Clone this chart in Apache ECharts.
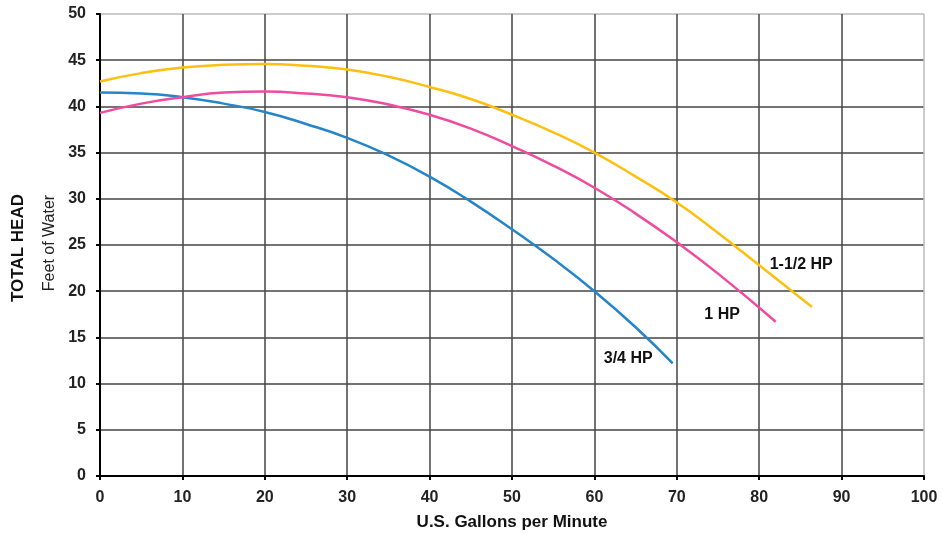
<!DOCTYPE html>
<html>
<head>
<meta charset="utf-8">
<script src="https://cdn.jsdelivr.net/npm/echarts@6/dist/echarts.min.js"></script>
<style>
  html, body { margin: 0; padding: 0; background: #fff; }
  #chart { width: 943px; height: 534px; }
</style>
</head>
<body>
<div id="chart"></div>
<script>
// pump curves: flow (GPM) vs head (ft)
const flowQuarter = [0, 5, 10, 15, 20, 25, 30, 35, 40, 45, 50, 55, 60, 65, 69.5]
const headQuarter = [41.5, 41.4, 41.0, 40.3, 39.4, 38.1, 36.6, 34.7, 32.4, 29.7, 26.7, 23.5, 20.0, 16.1, 12.2]

const flowOne = [0, 5, 10, 15, 20, 25, 30, 35, 40, 45, 50, 55, 60, 65, 70, 75, 82]
const headOne = [39.3, 40.3, 41.0, 41.5, 41.6, 41.4, 41.0, 40.2, 39.1, 37.6, 35.7, 33.6, 31.2, 28.4, 25.3, 21.9, 16.7]

const flowOneHalf = [0, 5, 10, 15, 20, 25, 30, 35, 40, 45, 50, 55, 60, 65, 70, 75, 80, 86.4]
const headOneHalf = [42.7, 43.6, 44.2, 44.5, 44.6, 44.4, 44.0, 43.2, 42.1, 40.8, 39.1, 37.2, 35.0, 32.4, 29.6, 26.3, 22.8, 18.3]

const seriesNames = ['3/4 HP', '1 HP', '1-1/2 HP']
// where each curve's label sits (data coords)
const labelSpots = [[64.1, 12.7], [75.5, 17.5], [85.1, 22.9]]

const font = '"Liberation Sans", Arial, Helvetica, sans-serif'

const zip = (xs, ys) => xs.map((x, i) => [x, ys[i]])

// grid lines dark, last one (top / right border) light grey
const gridColors = ['#444', '#444', '#444', '#444', '#444', '#444', '#444', '#444', '#444', '#444', '#bbb']

const makeSeries = (name, data, color, spot) => ({
  name: name,
  type: 'line',
  smooth: true,
  showSymbol: false,
  data: data,
  lineStyle: { color: color, width: 2.5 },
  markPoint: {
    symbol: 'circle',
    symbolSize: 0,
    data: [{ coord: spot, value: name }],
    label: {
      show: true,
      position: 'inside',
      formatter: name,
      color: '#111',
      fontFamily: font,
      fontWeight: 'bold',
      fontSize: 16
    }
  }
})

const chart = echarts.init(document.getElementById('chart'))

chart.setOption({
  animation: false,
  backgroundColor: '#fff',
  grid: { left: 100, right: 19, top: 14, bottom: 58, outerBoundsMode: 'none', containLabel: false },
  xAxis: {
    type: 'value',
    min: 0,
    max: 100,
    interval: 10,
    name: 'U.S. Gallons per Minute',
    nameLocation: 'middle',
    nameGap: 38,
    nameTextStyle: { color: '#111', fontFamily: font, fontWeight: 'bold', fontSize: 17 },
    axisLine: { show: true, onZero: false, lineStyle: { color: '#000', width: 2 } },
    axisTick: { show: true, length: 4, lineStyle: { color: '#000', width: 2 } },
    axisLabel: { color: '#222', fontFamily: font, fontWeight: 'bold', fontSize: 16, margin: 14 },
    splitLine: { show: true, lineStyle: { color: gridColors, width: 1.5 } }
  },
  yAxis: {
    type: 'value',
    min: 0,
    max: 50,
    interval: 5,
    axisLine: { show: true, onZero: false, lineStyle: { color: '#000', width: 2 } },
    axisTick: { show: true, length: 4, lineStyle: { color: '#000', width: 2 } },
    axisLabel: { color: '#222', fontFamily: font, fontWeight: 'bold', fontSize: 16, margin: 14 },
    splitLine: { show: true, lineStyle: { color: gridColors, width: 1.5 } }
  },
  graphic: [
    {
      type: 'text',
      rotation: Math.PI / 2,
      x: 18,
      y: 248,
      style: {
        text: 'TOTAL HEAD',
        fill: '#111',
        font: 'bold 17px ' + font,
        textAlign: 'center',
        textVerticalAlign: 'middle'
      }
    },
    {
      type: 'text',
      rotation: Math.PI / 2,
      x: 50,
      y: 243,
      style: {
        text: 'Feet of Water',
        fill: '#222',
        font: '16px ' + font,
        textAlign: 'center',
        textVerticalAlign: 'middle'
      }
    }
  ],
  series: [
    makeSeries(seriesNames[0], zip(flowQuarter, headQuarter), '#2485C8', labelSpots[0]),
    makeSeries(seriesNames[1], zip(flowOne, headOne), '#EF4CA0', labelSpots[1]),
    makeSeries(seriesNames[2], zip(flowOneHalf, headOneHalf), '#FDC010', labelSpots[2])
  ]
})
</script>
</body>
</html>
